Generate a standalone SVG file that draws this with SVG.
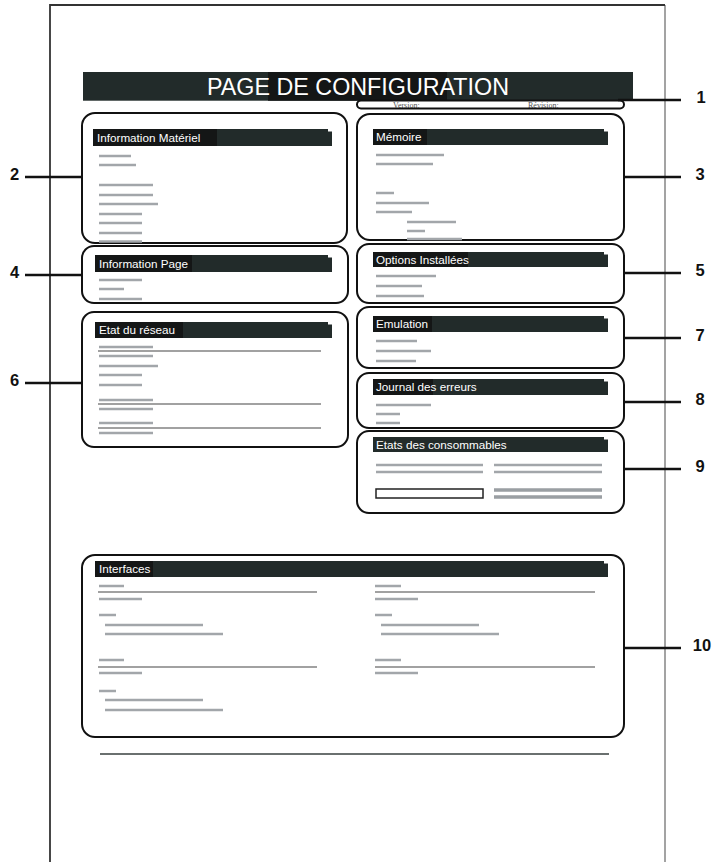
<svg xmlns="http://www.w3.org/2000/svg" width="718" height="862" viewBox="0 0 718 862">
<style>
.box{fill:none;stroke:#111;stroke-width:2}
.hdr{fill:#222b2a}
.hl{fill:#141616}
.ht{font-family:"Liberation Sans",Arial,sans-serif;font-size:11.7px;fill:#fff}
.ph{stroke:#a2a6aa;stroke-width:2.6;fill:none}
.ph2{stroke:#9a9fa3;stroke-width:3.4;fill:none}
.rule{stroke:#444;stroke-width:1.2;fill:none}
.lbl{font-family:"Liberation Sans",Arial,sans-serif;font-size:16.5px;font-weight:bold;fill:#111;text-anchor:middle}
.con{stroke:#111;stroke-width:2.6;fill:none}
.ver{font-family:"Liberation Serif","Times New Roman",serif;font-size:8px;fill:#555}
</style>
<rect width="718" height="862" fill="#fff"/>
<g id="page">
<path d="M665,5 V862" stroke="#666" stroke-width="1.2" fill="none"/>
<path d="M50,862 V5 H665" stroke="#333" stroke-width="1.8" fill="none"/>
<line x1="100" y1="754" x2="609" y2="754" stroke="#6a706f" stroke-width="2"/>
</g>
<g id="title">
<rect x="83" y="72" width="550" height="28.7" class="hdr"/>
<rect x="268" y="72" width="179" height="28.7" class="hl"/>
<text x="358" y="95" font-family="Liberation Sans,Arial,sans-serif" font-size="23.5" fill="#fff" text-anchor="middle" textLength="302" lengthAdjust="spacingAndGlyphs">PAGE DE CONFIGURATION</text>
</g>
<g id="n1">
<text x="393" y="107.5" class="ver">Version:</text>
<text x="528" y="107.5" class="ver">Révision:</text>
<rect x="357" y="100.5" width="267" height="8" rx="4" class="box"/>
</g>
<g id="n2">
<rect x="82" y="113" width="265" height="130" rx="13" class="box"/>
<path d="M93,129 H328 V131.5 H332 V146 H93 Z" class="hdr"/>
<rect x="93" y="129" width="124" height="17" class="hl"/>
<text x="97" y="141.5" class="ht">Information Matériel</text>
<path class="ph" d="M99,156H131M99,165H136M99,185H153M99,195H153M99,204H158M99,214H142M99,223H142M99,233H142M99,241.5H142"/>
</g>
<g id="n3">
<rect x="357" y="114" width="267" height="126" rx="13" class="box"/>
<path d="M373,129 H604 V131.5 H608 V145 H373 Z" class="hdr"/>
<rect x="373" y="129" width="54" height="16" class="hl"/>
<text x="376" y="141" class="ht">Mémoire</text>
<path class="ph" d="M376,155H444M376,164H433M376,193H394M376,203H429M376,212H412M407,222H456M407,231H425M407,239H462"/>
</g>
<g id="n4">
<rect x="82" y="246" width="266" height="57" rx="12" class="box"/>
<path d="M95,255 H328 V257.5 H332 V272 H95 Z" class="hdr"/>
<rect x="95" y="255" width="97" height="17" class="hl"/>
<text x="99" y="267.5" class="ht">Information Page</text>
<path class="ph" d="M99,280H142M99,289H124M99,299H142"/>
</g>
<g id="n5">
<rect x="357" y="244" width="267" height="59" rx="12" class="box"/>
<path d="M373,252 H604 V254.5 H608 V267 H373 Z" class="hdr"/>
<rect x="373" y="252" width="95" height="15" class="hl"/>
<text x="376" y="263.5" class="ht">Options Installées</text>
<path class="ph" d="M376,276H436M376,286H422M376,296H424"/>
</g>
<g id="n6">
<rect x="82" y="312" width="266" height="135" rx="12" class="box"/>
<path d="M95,322 H328 V324.5 H332 V338 H95 Z" class="hdr"/>
<rect x="95" y="322" width="88" height="16" class="hl"/>
<text x="99" y="334" class="ht">Etat du réseau</text>
<path class="ph" d="M99,347H153M99,356H153M99,366H158M99,375H142M99,385H142M99,400H153M99,409H153M99,423H153M99,433H153"/>
<path class="rule" d="M98,351H321M98,404H321M98,428H321"/>
</g>
<g id="n7">
<rect x="357" y="307" width="267" height="61" rx="12" class="box"/>
<path d="M373,316 H604 V318.5 H608 V332 H373 Z" class="hdr"/>
<rect x="373" y="316" width="59" height="16" class="hl"/>
<text x="376" y="328" class="ht">Emulation</text>
<path class="ph" d="M376,341H417M376,351H431M376,361H416"/>
</g>
<g id="n8">
<rect x="357" y="373" width="267" height="55" rx="12" class="box"/>
<path d="M373,379 H604 V381.5 H608 V395 H373 Z" class="hdr"/>
<rect x="373" y="379" width="60" height="16" class="hl"/>
<text x="376" y="391" class="ht">Journal des erreurs</text>
<path class="ph" d="M376,405H431M376,414H400M376,423H400"/>
</g>
<g id="n9">
<rect x="357" y="431" width="267" height="82" rx="12" class="box"/>
<path d="M373,437 H604 V439.5 H608 V452 H373 Z" class="hdr"/>
<text x="376" y="448.5" class="ht">Etats des consommables</text>
<path class="ph" d="M376,465H483M376,472H483M494,465H602M494,472H602"/>
<path class="ph2" d="M494,490H602M494,497H602"/>
<rect x="376" y="489" width="107" height="9" fill="#fff" stroke="#222" stroke-width="1.5"/>
</g>
<g id="n10">
<rect x="82" y="555" width="542" height="182" rx="13" class="box"/>
<path d="M95,561 H604 V563.5 H608 V577 H95 Z" class="hdr"/>
<rect x="95" y="561" width="58" height="16" class="hl"/>
<text x="99" y="573" class="ht">Interfaces</text>
<path class="ph" d="M99,586H124M99,599H142M99,615H116M105,625H203M105,634H223M99,660H124M99,673H142M99,691H116M105,700H203M105,710H223"/>
<path class="ph" d="M375,586H401M375,599H418M375,615H392M381,625H479M381,634H499M375,660H401M375,673H418"/>
<path class="rule" d="M98,592H317M98,667H317M375,592H595M375,667H595"/>
</g>
<g id="connectors">
<path class="con" d="M618,100H681M25,177H82M624,177H681M25,275H82M624,273H681M25,383H82M624,338H681M624,402H681M624,469H681M624,648H681"/>
</g>
<g id="labels">
<text x="701" y="103" class="lbl">1</text>
<text x="14.5" y="180" class="lbl">2</text>
<text x="700" y="180" class="lbl">3</text>
<text x="14.5" y="278" class="lbl">4</text>
<text x="700" y="276" class="lbl">5</text>
<text x="14.5" y="386" class="lbl">6</text>
<text x="700" y="341" class="lbl">7</text>
<text x="700" y="405" class="lbl">8</text>
<text x="700" y="472" class="lbl">9</text>
<text x="702" y="651" class="lbl">10</text>
</g>
</svg>
